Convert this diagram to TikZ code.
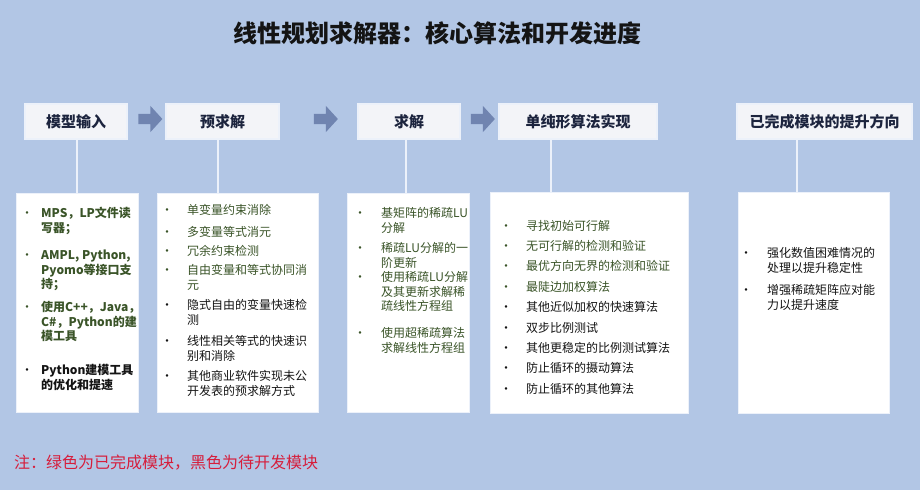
\documentclass[tikz,border=0pt]{standalone}
\usepackage{fontspec}
\setmainfont{Noto Sans CJK SC}
\usetikzlibrary{shapes.arrows}
\definecolor{bg}{RGB}{178,198,229}
\definecolor{hdrfill}{RGB}{243,244,248}
\definecolor{hdrtext}{RGB}{28,36,62}
\definecolor{arr}{RGB}{112,132,176}
\definecolor{grn}{RGB}{58,84,40}
\definecolor{blk}{RGB}{20,20,20}
\definecolor{notered}{RGB}{214,30,60}
\definecolor{linkc}{RGB}{236,241,250}
\newcommand{\itemlines}[1]{\begin{tabular}[t]{@{}l@{}}#1\end{tabular}}
\tikzset{
  hdr/.style={fill=hdrfill, draw=linkc, line width=1.2pt, inner sep=0pt, minimum height=35pt,
    text=hdrtext, font=\fontsize{15}{17}\selectfont\bfseries},
  card/.style={fill=white, draw=linkc, line width=1pt, inner sep=0pt},
  blockarrow/.style={single arrow, fill=arr, draw=none, inner sep=5pt, minimum height=24pt,
    single arrow head extend=8pt, single arrow tip angle=95},
  link/.style={draw=linkc, line width=1.6pt},
  itm/.style={anchor=base west, inner sep=0pt, font=\fontsize{12}{14.5}\selectfont},
  itmb/.style={itm, font=\fontsize{12}{14.5}\selectfont\bfseries},
  blt/.style={anchor=base, inner sep=0pt, font=\fontsize{12}{13}\selectfont}
}
\begin{document}
\begin{tikzpicture}[x=1pt,y=-1pt]
\fill[bg] (0,0) rectangle (920,490);
\useasboundingbox (0,0) rectangle (920,490);

% title
\node[font=\fontsize{24}{28}\selectfont\bfseries, text=blk, inner sep=0pt] (title) at (437.5,33) {线性规划求解器：核心算法和开发进度};

% headers
\node[hdr, minimum width=102pt] (h1) at (76,121.5) {模型输入};
\node[hdr, minimum width=113pt] (h2) at (222.5,121.5) {预求解};
\node[hdr, minimum width=102pt] (h3) at (409,121.5) {求解};
\node[hdr, minimum width=158pt] (h4) at (578,121.5) {单纯形算法实现};
\node[hdr, minimum width=175pt] (h5) at (824.5,121.5) {已完成模块的提升方向};

% block arrows
\node[blockarrow] (a1) at (148,119) {};
\node[blockarrow] (a2) at (323.5,119) {};
\node[blockarrow] (a3) at (480.5,119) {};

% cards
\node[card, minimum width=122pt, minimum height=219pt] (c1) at (77,302.5) {};
\node[card, minimum width=161pt, minimum height=219pt] (c2) at (237.5,302.5) {};
\node[card, minimum width=122pt, minimum height=219pt] (c3) at (408,302.5) {};
\node[card, minimum width=198pt, minimum height=221pt] (c4) at (589,302.5) {};
\node[card, minimum width=151pt, minimum height=221pt] (c5) at (813.5,302.5) {};

% links
\coordinate (l1) at ([xshift=1pt]h1.south);
\coordinate (l2) at ([xshift=-4.5pt]h2.south);
\coordinate (l3) at ([xshift=-3pt]h3.south);
\coordinate (l4) at ([xshift=-27pt]h4.south);
\coordinate (l5) at ([xshift=-27.5pt]h5.south);
\draw[link] (l1) -- (l1 |- c1.north);
\draw[link] (l2) -- (l2 |- c2.north);
\draw[link] (l3) -- (l3 |- c3.north);
\draw[link] (l4) -- (l4 |- c4.north);
\draw[link] (l5) -- (l5 |- c5.north);

% card 1
\node[blt, text=grn] (b1a) at (27,217.5) {•};
\node[itmb, text=grn] (t1a) at (41,217.5) {\itemlines{MPS，LP文件读\\写器；}};
\node[blt, text=grn] (b1b) at (27,259.5) {•};
\node[itmb, text=grn] (t1b) at (41,259.5) {\itemlines{AMPL, Python,\\Pyomo等接口支\\持；}};
\node[blt, text=grn] (b1c) at (27,311.5) {•};
\node[itmb, text=grn] (t1c) at (41,311.5) {\itemlines{使用C++，Java，\\C\#，Python的建\\模工具}};
\node[blt, text=blk] (b1d) at (27,374.5) {•};
\node[itmb, text=blk] (t1d) at (41,374.5) {\itemlines{Python建模工具\\的优化和提速}};

% card 2
\node[blt, text=grn] (b2a) at (167,214.5) {•};
\node[itm, text=grn] (t2a) at (187,214.5) {单变量约束消除};
\node[blt, text=grn] (b2b) at (167,236) {•};
\node[itm, text=grn] (t2b) at (187,236) {多变量等式消元};
\node[blt, text=grn] (b2c) at (167,255.5) {•};
\node[itm, text=grn] (t2c) at (187,255.5) {冗余约束检测};
\node[blt, text=grn] (b2d) at (167,274.5) {•};
\node[itm, text=grn] (t2d) at (187,274.5) {\itemlines{自由变量和等式协同消\\元}};
\node[blt, text=blk] (b2e) at (167,309.5) {•};
\node[itm, text=blk] (t2e) at (187,309.5) {\itemlines{隐式自由的变量快速检\\测}};
\node[blt, text=blk] (b2f) at (167,345.5) {•};
\node[itm, text=blk] (t2f) at (187,345.5) {\itemlines{线性相关等式的快速识\\别和消除}};
\node[blt, text=blk] (b2g) at (167,380.5) {•};
\node[itm, text=blk] (t2g) at (187,380.5) {\itemlines{其他商业软件实现未公\\开发表的预求解方式}};

% card 3
\node[blt, text=grn] (b3a) at (360,217.5) {•};
\node[itm, text=grn] (t3a) at (381,217.5) {\itemlines{基矩阵的稀疏LU\\分解}};
\node[blt, text=grn] (b3b) at (360,252.5) {•};
\node[itm, text=grn] (t3b) at (381,252.5) {\itemlines{稀疏LU分解的一\\阶更新}};
\node[blt, text=grn] (b3c) at (360,281.5) {•};
\node[itm, text=grn] (t3c) at (381,281.5) {\itemlines{使用稀疏LU分解\\及其更新求解稀\\疏线性方程组}};
\node[blt, text=grn] (b3d) at (360,337.5) {•};
\node[itm, text=grn] (t3d) at (381,337.5) {\itemlines{使用超稀疏算法\\求解线性方程组}};

% card 4
\node[blt, text=grn] (b4a) at (506,230) {•};
\node[itm, text=grn] (t4a) at (526,230) {寻找初始可行解};
\node[blt, text=grn] (b4b) at (506,250.4) {•};
\node[itm, text=grn] (t4b) at (526,250.4) {无可行解的检测和验证};
\node[blt, text=grn] (b4c) at (506,270.8) {•};
\node[itm, text=grn] (t4c) at (526,270.8) {最优方向无界的检测和验证};
\node[blt, text=grn] (b4d) at (506,291.2) {•};
\node[itm, text=grn] (t4d) at (526,291.2) {最陡边加权算法};
\node[blt, text=blk] (b4e) at (506,311.6) {•};
\node[itm, text=blk] (t4e) at (526,311.6) {其他近似加权的快速算法};
\node[blt, text=blk] (b4f) at (506,332) {•};
\node[itm, text=blk] (t4f) at (526,332) {双步比例测试};
\node[blt, text=blk] (b4g) at (506,352.4) {•};
\node[itm, text=blk] (t4g) at (526,352.4) {其他更稳定的比例测试算法};
\node[blt, text=blk] (b4h) at (506,372.8) {•};
\node[itm, text=blk] (t4h) at (526,372.8) {防止循环的摄动算法};
\node[blt, text=blk] (b4i) at (506,393.2) {•};
\node[itm, text=blk] (t4i) at (526,393.2) {防止循环的其他算法};

% card 5
\node[blt, text=blk] (b5a) at (746,257.5) {•};
\node[itm, text=blk] (t5a) at (767,257.5) {\itemlines{强化数值困难情况的\\处理以提升稳定性}};
\node[blt, text=blk] (b5b) at (746,294.5) {•};
\node[itm, text=blk] (t5b) at (767,294.5) {\itemlines{增强稀疏矩阵应对能\\力以提升速度}};

% note
\node[anchor=west, inner sep=0pt, font=\fontsize{16}{18}\selectfont, text=notered] (note) at (14,463) {注：绿色为已完成模块，黑色为待开发模块};
\end{tikzpicture}
\end{document}
